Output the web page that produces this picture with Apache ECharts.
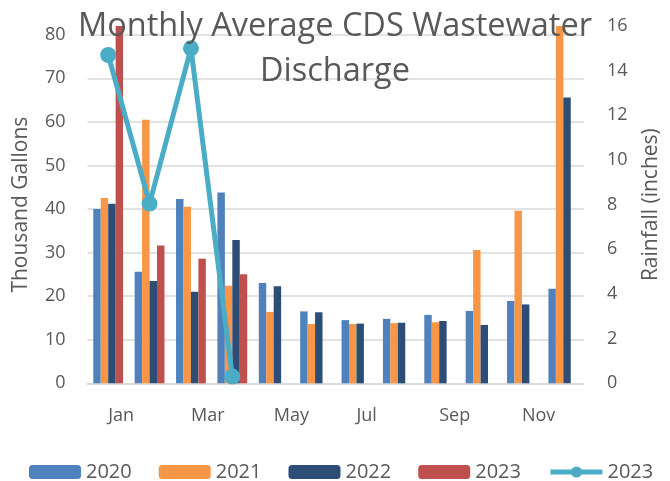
<!DOCTYPE html>
<html>
<head>
<meta charset="utf-8">
<script src="https://cdn.jsdelivr.net/npm/echarts@6/dist/echarts.min.js"></script>
<style>
html,body{margin:0;padding:0;background:#fff;}
#chart{width:670px;height:481px;}
</style>
</head>
<body>
<div id="chart"></div>
<script>
const months = ['Jan','Feb','Mar','Apr','May','Jun','Jul','Aug','Sep','Oct','Nov','Dec'];
const discharge2020 = [40.0, 25.6, 42.3, 43.8, 23.0, 16.5, 14.5, 14.8, 15.7, 16.6, 18.9, 21.7];
const discharge2021 = [42.5, 60.5, 40.5, 22.4, 16.4, 13.6, 13.6, 13.8, 14.0, 30.6, 39.6, 82.0];
const discharge2022 = [41.2, 23.5, 21.0, 32.9, 22.3, 16.3, 13.7, 13.9, 14.3, 13.4, 18.1, 65.6];
const discharge2023 = [82.0, 31.6, 28.6, 25.0, null, null, null, null, null, null, null, null];
const rainfall2023 = [14.7, 8.05, 15.0, 0.3, null, null, null, null, null, null, null, null];
const leftTicks = [0, 10, 20, 30, 40, 50, 60, 70, 80];
const rightTicks = [0, 2, 4, 6, 8, 10, 12, 14, 16];

const FONT = 'Open Sans';
const GREY = '#595959';
const chart = echarts.init(document.getElementById('chart'), null, {renderer: 'canvas'});

function barSeries(name, data, color) {
  return {
    name: name, type: 'bar', data: data, yAxisIndex: 0,
    barGap: '0%', barCategoryGap: '28%',
    itemStyle: {color: color},
    animation: false
  };
}

chart.setOption({
  animation: false,
  textStyle: {fontFamily: FONT, color: GREY},
  title: {
    text: 'Monthly Average CDS Wastewater\nDischarge',
    left: 'center',
    top: -1,
    textStyle: {fontFamily: FONT, fontSize: 32.5, fontWeight: 'normal', color: GREY, lineHeight: 45}
  },
  legend: {
    left: 24, top: 457,
    itemWidth: 52, itemHeight: 14, itemGap: 27,
    textStyle: {fontFamily: FONT, fontSize: 20, color: GREY},
    formatter: function (n) { return n.trim(); },
    data: ['2020', '2021', '2022', '2023', {name: '2023 ', lineStyle: {width: 5, color: '#4BACC6'}, itemStyle: {color: '#4BACC6'}}]
  },
  grid: {left: 87.5, right: 83, top: 26, bottom: 97.7, containLabel: false},
  xAxis: {
    type: 'category',
    data: months,
    axisLine: {lineStyle: {color: '#d9d9d9', width: 1.5}},
    axisTick: {show: false},
    axisLabel: {interval: 1, align: 'left', margin: 24, fontFamily: FONT, fontSize: 18, color: GREY}
  },
  yAxis: [
    {
      type: 'value', min: 0, max: 82, interval: 10,
      name: 'Thousand Gallons', nameLocation: 'middle', nameGap: 56,
      nameTextStyle: {fontFamily: FONT, fontSize: 21, color: GREY},
      axisLine: {show: false}, axisTick: {show: false},
      axisLabel: {
        fontFamily: FONT, fontSize: 18, color: GREY, margin: 22, showMaxLabel: false,
        formatter: function (v) { return leftTicks.indexOf(v) >= 0 ? String(v) : ''; }
      },
      splitLine: {show: true, showMaxLine: false, lineStyle: {color: '#d9d9d9', width: 1.5}}
    },
    {
      type: 'value', min: 0, max: 16, interval: 2,
      name: 'Rainfall (inches)', nameLocation: 'middle', nameGap: 57, nameRotate: 90,
      nameTextStyle: {fontFamily: FONT, fontSize: 21, color: GREY},
      axisLine: {show: false}, axisTick: {show: false},
      axisLabel: {
        fontFamily: FONT, fontSize: 18, color: GREY, margin: 23,
        formatter: function (v) { return rightTicks.indexOf(v) >= 0 ? String(v) : ''; }
      },
      splitLine: {show: false}
    }
  ],
  series: [
    barSeries('2020', discharge2020, '#4F81BD'),
    barSeries('2021', discharge2021, '#F79646'),
    barSeries('2022', discharge2022, '#2C4D75'),
    barSeries('2023', discharge2023, '#C0504D'),
    {
      name: '2023 ', type: 'line', yAxisIndex: 1, data: rainfall2023,
      symbol: 'circle', symbolSize: 16,
      lineStyle: {color: '#4BACC6', width: 5},
      itemStyle: {color: '#4BACC6'},
      z: 5
    }
  ]
});
</script>
</body>
</html>
